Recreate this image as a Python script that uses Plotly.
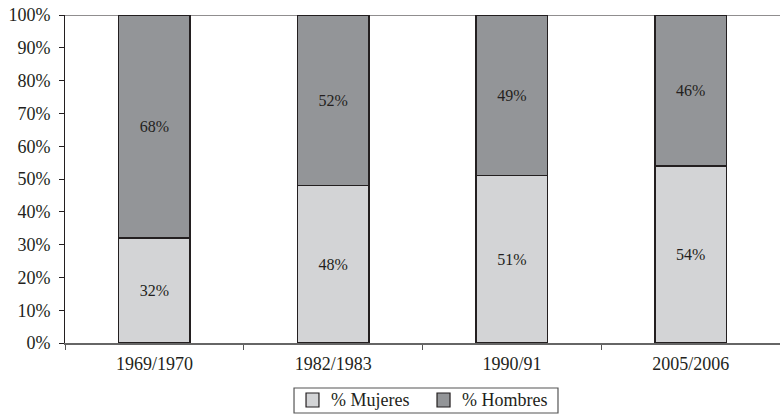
import plotly.graph_objects as go

periods = ["1969/1970", "1982/1983", "1990/91", "2005/2006"]
mujeres = [32, 48, 51, 54]
hombres = [68, 52, 49, 46]
y_ticks = list(range(0, 101, 10))

ink = "#231f20"
serif = "Liberation Serif"
light = "#d3d4d6"
dark = "#939598"

fig = go.Figure()
fig.add_trace(go.Bar(
    x=periods, y=mujeres, name="% Mujeres", showlegend=False,
    marker=dict(color=light, line=dict(color=ink, width=1.5)),
    text=[f"{v}%" for v in mujeres], textposition="inside",
    insidetextanchor="middle",
    textfont=dict(family=serif, size=16, color=ink),
))
fig.add_trace(go.Bar(
    x=periods, y=hombres, name="% Hombres", showlegend=False,
    marker=dict(color=dark, line=dict(color=ink, width=1.5)),
    text=[f"{v}%" for v in hombres], textposition="inside",
    insidetextanchor="middle",
    textfont=dict(family=serif, size=16, color=ink),
))

# Legend drawn as a framed key below the plot
shapes = [
    dict(type="line", xref="paper", yref="y", x0=0, x1=1, y0=100, y1=100,
         line=dict(color=ink, width=1.2)),
    dict(type="rect", xref="paper", yref="paper", x0=0.3203, x1=0.6895,
         y0=-0.2134, y1=-0.1372, line=dict(color="#555", width=1.2),
         fillcolor="white"),
    dict(type="rect", xref="paper", yref="paper", x0=0.3371, x1=0.3552,
         y0=-0.1951, y1=-0.1524, line=dict(color=ink, width=1.2), fillcolor=light),
    dict(type="rect", xref="paper", yref="paper", x0=0.5203, x1=0.5385,
         y0=-0.1951, y1=-0.1524, line=dict(color=ink, width=1.2), fillcolor=dark),
]
annotations = [
    dict(text="% Mujeres", xref="paper", yref="paper", x=0.3692, y=-0.1738,
         xanchor="left", yanchor="middle", showarrow=False,
         font=dict(family=serif, size=18, color=ink)),
    dict(text="% Hombres", xref="paper", yref="paper", x=0.5524, y=-0.1738,
         xanchor="left", yanchor="middle", showarrow=False,
         font=dict(family=serif, size=18, color=ink)),
]

fig.update_layout(
    barmode="stack",
    bargap=0.6,
    width=780, height=414,
    margin=dict(l=65, r=0, t=15, b=71),
    plot_bgcolor="white", paper_bgcolor="white",
    font=dict(family=serif, size=18, color=ink),
    uniformtext=dict(mode="show", minsize=16),
    showlegend=False,
    shapes=shapes,
    annotations=annotations,
)
fig.update_xaxes(
    type="category", tickson="boundaries", ticks="outside", ticklen=5,
    tickcolor="#555", showline=True, linecolor="#666", linewidth=1.5,
    showgrid=False, ticklabelstandoff=4,
    tickfont=dict(family=serif, size=18, color=ink),
)
fig.update_yaxes(
    range=[0, 100], tickvals=y_ticks, ticktext=[f"{v}%" for v in y_ticks],
    ticks="outside", ticklen=5, tickcolor=ink, showline=True, linecolor=ink,
    linewidth=1, showgrid=False, zeroline=False, ticklabelstandoff=5,
    tickfont=dict(family=serif, size=18, color=ink),
)

fig.write_html("out.html")
